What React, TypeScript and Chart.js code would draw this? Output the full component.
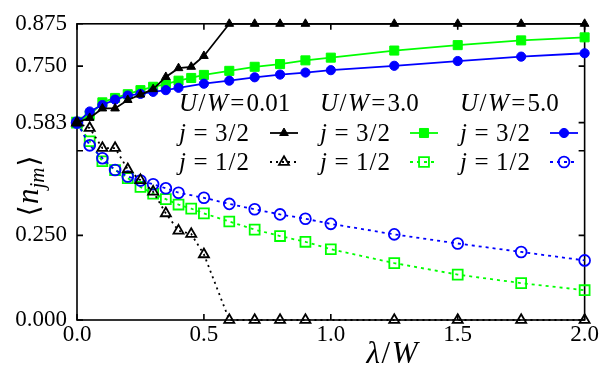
import React, { useEffect, useRef } from "react";
import { Chart, registerables } from "chart.js";
import { drawPoint } from "chart.js/helpers";

Chart.register(...registerables);

// λ/W sample points for each interaction strength
const lambdaU001 = [0, 0.05, 0.1, 0.15, 0.2, 0.25, 0.3, 0.35, 0.4, 0.45, 0.5, 0.6, 0.7, 0.8, 0.9, 1.25, 1.5, 1.75, 2.0];
const lambdaU3 = [0, 0.05, 0.1, 0.15, 0.2, 0.25, 0.3, 0.35, 0.4, 0.45, 0.5, 0.6, 0.7, 0.8, 0.9, 1.0, 1.25, 1.5, 1.75, 2.0];
const lambdaU5 = [0, 0.05, 0.1, 0.15, 0.2, 0.25, 0.3, 0.35, 0.4, 0.5, 0.6, 0.7, 0.8, 0.9, 1.0, 1.25, 1.5, 1.75, 2.0];

// occupations <n_jm>
const n32U001 = [0.583, 0.597, 0.625, 0.625, 0.65, 0.666, 0.682, 0.718, 0.744, 0.748, 0.78, 0.875, 0.875, 0.875, 0.875, 0.875, 0.875, 0.875, 0.875];
const n12U001 = [0.583, 0.567, 0.508, 0.508, 0.445, 0.413, 0.379, 0.315, 0.264, 0.254, 0.194, 0, 0, 0, 0, 0, 0, 0, 0];
const n32U3 = [0.583, 0.605, 0.643, 0.656, 0.667, 0.679, 0.689, 0.697, 0.707, 0.715, 0.724, 0.736, 0.748, 0.756, 0.767, 0.775, 0.796, 0.812, 0.826, 0.835];
const n12U3 = [0.583, 0.528, 0.469, 0.443, 0.419, 0.393, 0.373, 0.357, 0.341, 0.329, 0.315, 0.291, 0.267, 0.248, 0.231, 0.209, 0.168, 0.134, 0.109, 0.088];
const n32U5 = [0.583, 0.616, 0.635, 0.651, 0.663, 0.668, 0.674, 0.679, 0.686, 0.698, 0.707, 0.717, 0.725, 0.731, 0.738, 0.751, 0.765, 0.778, 0.788];
const n12U5 = [0.583, 0.516, 0.478, 0.443, 0.424, 0.412, 0.401, 0.389, 0.376, 0.361, 0.343, 0.327, 0.312, 0.299, 0.284, 0.253, 0.226, 0.201, 0.176];

// axis ticks
const xTicks = [0, 0.5, 1.0, 1.5, 2.0];
const xTickLabels = ["0.0", "0.5", "1.0", "1.5", "2.0"];
const yTicks = [0, 0.25, 0.5, 0.583, 0.75, 0.875];
const yTickLabels = ["0.000", "0.250", "", "0.583", "0.750", "0.875"];

// legend text
const legendU = ["0.01", "3.0", "5.0"];
const legendJ = ["3/2", "1/2"];

const SERIF = '"Liberation Serif"';
const BLACK = "#000000";
const GREEN = "#00ff00";
const BLUE = "#0000ff";

type Run = { t: string; it?: boolean; size?: number; dy?: number; pre?: number; post?: number; family?: string };

function fontOf(r: Run, s: number) {
  return `${r.it ? "italic " : ""}${s}px ${r.family ?? SERIF}`;
}

function runsWidth(ctx: CanvasRenderingContext2D, runs: Run[], size: number) {
  let w = 0;
  for (const r of runs) {
    const s = r.size ?? size;
    ctx.font = fontOf(r, s);
    w += (r.pre ?? 0) * s + ctx.measureText(r.t).width + (r.post ?? 0) * s;
  }
  return w;
}

function drawRuns(ctx: CanvasRenderingContext2D, runs: Run[], x: number, y: number, size: number, align: "left" | "center" = "left") {
  let cx = align === "center" ? x - runsWidth(ctx, runs, size) / 2 : x;
  ctx.textAlign = "left";
  ctx.textBaseline = "alphabetic";
  ctx.fillStyle = BLACK;
  for (const r of runs) {
    const s = r.size ?? size;
    ctx.font = fontOf(r, s);
    cx += (r.pre ?? 0) * s;
    ctx.fillText(r.t, cx, y + (r.dy ?? 0));
    cx += ctx.measureText(r.t).width + (r.post ?? 0) * s;
  }
}

type Style = { color: string; dash: number[]; point: string; radius: number; filled: boolean };

const styles: Style[][] = [
  [
    { color: BLACK, dash: [], point: "triangle", radius: 5, filled: true },
    { color: BLACK, dash: [2, 4], point: "triangle", radius: 5.8, filled: false },
  ],
  [
    { color: GREEN, dash: [], point: "rect", radius: 6.4, filled: true },
    { color: GREEN, dash: [3, 4], point: "rect", radius: 7, filled: false },
  ],
  [
    { color: BLUE, dash: [], point: "circle", radius: 4.6, filled: true },
    { color: BLUE, dash: [3, 4], point: "circle", radius: 5.4, filled: false },
  ],
];

function makeSet(xs: number[], ys: number[], st: Style, order: number) {
  return {
    data: xs.map((x, i) => ({ x, y: ys[i] })),
    borderColor: st.color,
    borderWidth: 1.8,
    borderDash: st.dash,
    pointStyle: st.point,
    pointRadius: st.radius,
    pointBorderWidth: st.filled ? 1 : 1.8,
    pointBorderColor: st.color,
    pointBackgroundColor: st.filled ? st.color : "rgba(0,0,0,0)",
    clip: false,
    order,
  };
}

const framePlugin = {
  id: "frame",
  beforeDatasetsDraw(chart: any) {
    const { ctx, chartArea: a, scales } = chart;
    ctx.save();
    ctx.strokeStyle = BLACK;
    ctx.lineWidth = 1.6;
    ctx.strokeRect(a.left, a.top, a.right - a.left, a.bottom - a.top);
    const len = 6;
    ctx.beginPath();
    for (const v of xTicks) {
      const px = scales.x.getPixelForValue(v);
      ctx.moveTo(px, a.bottom);
      ctx.lineTo(px, a.bottom - len);
      ctx.moveTo(px, a.top);
      ctx.lineTo(px, a.top + len);
    }
    for (const v of yTicks) {
      const py = scales.y.getPixelForValue(v);
      ctx.moveTo(a.left, py);
      ctx.lineTo(a.left + len, py);
      ctx.moveTo(a.right, py);
      ctx.lineTo(a.right - len, py);
    }
    ctx.stroke();
    ctx.restore();
  },
  afterDraw(chart: any) {
    const { ctx, chartArea: a } = chart;
    ctx.save();

    // axis titles
    drawRuns(ctx, [{ t: "λ", it: true, post: 0.05 }, { t: "/", post: 0.05 }, { t: "W", it: true }], 392, 363, 31, "center");

    ctx.save();
    ctx.translate(28, (a.top + a.bottom) / 2 + 14);
    ctx.rotate(-Math.PI / 2);
    drawRuns(
      ctx,
      [
        { t: "⟨", post: 0.05, family: '"DejaVu Serif"', size: 28 },
        { t: "n", it: true },
        { t: "jm", it: true, size: 21, dy: 6, post: 0.05 },
        { t: "⟩", family: '"DejaVu Serif"', size: 28 },
      ],
      0,
      10,
      31,
      "center"
    );
    ctx.restore();

    // legend: three columns, header + two rows
    const colX = [179, 320, 460];
    const sampleX = [270, 410, 550];
    const rowY = [111, 141, 170];
    const fs = 25;
    for (let c = 0; c < 3; c++) {
      drawRuns(
        ctx,
        [
          { t: "U", it: true, post: 0.06 },
          { t: "/", post: 0.06 },
          { t: "W", it: true, post: 0.1 },
          { t: "=", post: 0.08 },
          { t: legendU[c] },
        ],
        colX[c],
        rowY[0],
        fs
      );
      for (let r = 0; r < 2; r++) {
        const [a1, b1] = legendJ[r].split("/");
        drawRuns(
          ctx,
          [
            { t: "j", it: true, post: 0.3 },
            { t: "=", post: 0.3 },
            { t: a1, post: 0.04 },
            { t: "/", post: 0.04 },
            { t: b1 },
          ],
          colX[c],
          rowY[r + 1],
          fs
        );
        const st = styles[c][r];
        const y = rowY[r + 1] - 8;
        const x0 = sampleX[c];
        const x1 = x0 + 28;
        ctx.save();
        ctx.strokeStyle = st.color;
        ctx.lineWidth = 1.8;
        ctx.setLineDash(st.dash);
        ctx.beginPath();
        ctx.moveTo(x0, y);
        ctx.lineTo(x1, y);
        ctx.stroke();
        ctx.setLineDash([]);
        ctx.fillStyle = st.filled ? st.color : "rgba(0,0,0,0)";
        ctx.strokeStyle = st.color;
        ctx.lineWidth = st.filled ? 1 : 1.8;
        drawPoint(ctx, { pointStyle: st.point as any, radius: st.radius, rotation: 0, borderWidth: ctx.lineWidth }, (x0 + x1) / 2, y);
        ctx.restore();
      }
    }
    ctx.restore();
  },
};

export default function App() {
  const ref = useRef<HTMLCanvasElement>(null);

  useEffect(() => {
    const canvas = ref.current;
    if (!canvas) return;
    const tickFont = { family: "Liberation Serif", size: 23 };
    const chart = new Chart(canvas, {
      type: "line",
      data: {
        datasets: [
          makeSet(lambdaU001, n32U001, styles[0][0], 0),
          makeSet(lambdaU001, n12U001, styles[0][1], 1),
          makeSet(lambdaU5, n32U5, styles[2][0], 2),
          makeSet(lambdaU5, n12U5, styles[2][1], 3),
          makeSet(lambdaU3, n32U3, styles[1][0], 4),
          makeSet(lambdaU3, n12U3, styles[1][1], 5),
        ] as any,
      },
      options: {
        responsive: false,
        animation: false,
        devicePixelRatio: 1,
        layout: { padding: { left: 0, top: 19, right: 13, bottom: 0 } },
        plugins: { legend: { display: false }, tooltip: { enabled: false }, title: { display: false } },
        scales: {
          x: {
            type: "linear",
            min: 0,
            max: 2,
            grid: { display: false, drawTicks: false },
            border: { display: false },
            afterFit: (s: any) => {
              s.height = 55;
            },
            afterBuildTicks: (s: any) => {
              s.ticks = xTicks.map((v) => ({ value: v }));
            },
            ticks: {
              color: BLACK,
              font: tickFont,
              padding: 1,
              maxRotation: 0,
              autoSkip: false,
              callback: (v: any) => xTickLabels[xTicks.indexOf(Number(v))] ?? "",
            },
          },
          y: {
            type: "linear",
            min: 0,
            max: 0.875,
            grid: { display: false, drawTicks: false },
            border: { display: false },
            afterFit: (s: any) => {
              s.width = 77;
            },
            afterBuildTicks: (s: any) => {
              s.ticks = yTicks.map((v) => ({ value: v }));
            },
            ticks: {
              color: BLACK,
              font: tickFont,
              padding: 10,
              autoSkip: false,
              callback: (v: any) => yTickLabels[yTicks.indexOf(Number(v))] ?? "",
            },
          },
        },
      },
      plugins: [framePlugin],
    } as any);
    return () => chart.destroy();
  }, []);

  return (
    <div style={{ position: "fixed", left: 0, top: 0, width: 600, height: 375, background: "#ffffff" }}>
      <canvas ref={ref} width={600} height={375} style={{ display: "block", width: 600, height: 375 }} />
    </div>
  );
}
